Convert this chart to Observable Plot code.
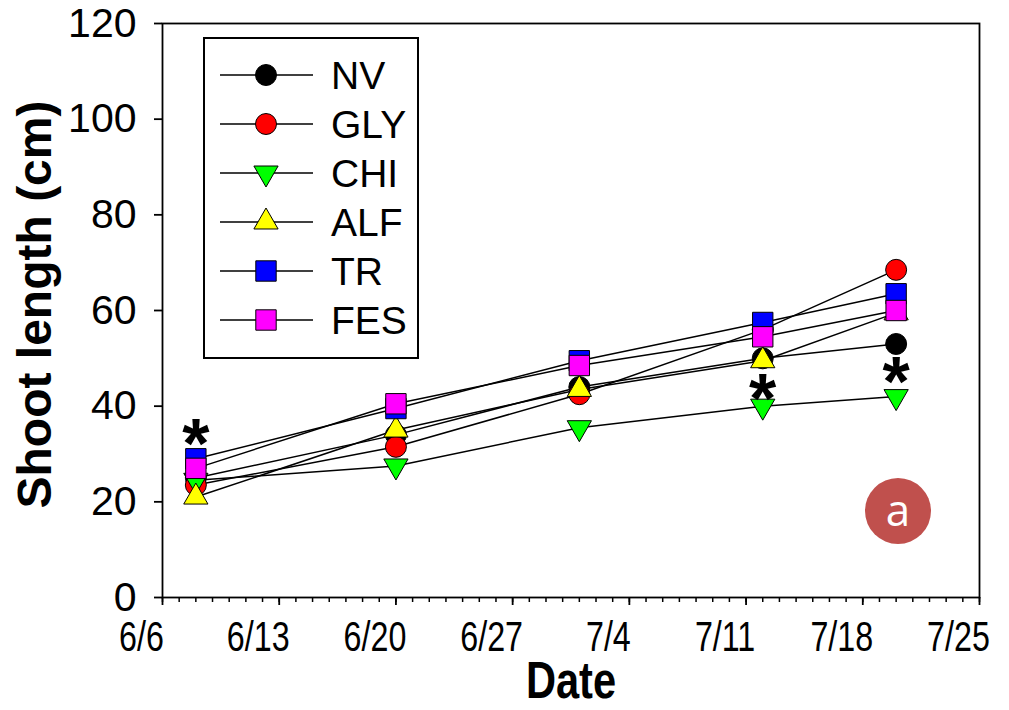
<!DOCTYPE html>
<html>
<head>
<meta charset="utf-8">
<script src="https://cdn.jsdelivr.net/npm/d3@7"></script>
<script src="https://cdn.jsdelivr.net/npm/@observablehq/plot@0.6"></script>
<style>
  html, body { margin: 0; padding: 0; background: #fff; }
  #wrap { position: relative; width: 1009px; height: 710px; overflow: hidden; }
  #legend, #badge { position: absolute; }
</style>
</head>
<body>
<div id="wrap"></div>
<script>
// ---- data ----
const year = 2019;
const dates = ["6/8", "6/20", "7/1", "7/12", "7/20"];
const series = ["NV", "GLY", "CHI", "ALF", "TR", "FES"];
const NV  = [25.0, 34.0, 44.0, 50.0, 53.0];
const GLY = [23.5, 31.5, 42.5, 56.0, 68.5];
const CHI = [24.5, 27.5, 35.5, 40.0, 42.0];
const ALF = [21.0, 35.0, 43.5, 49.5, 59.5];
const TR  = [29.0, 39.5, 49.5, 57.5, 63.5];
const FES = [27.0, 40.5, 48.5, 54.5, 60.0];
const fills = ["#000000", "#ff0000", "#00ff00", "#ffff00", "#0000ff", "#ff00ff"];
const shapes = ["circle", "circle", "triangle-down", "triangle", "square", "square"];
const xTickLabels = ["6/6", "6/13", "6/20", "6/27", "7/4", "7/11", "7/18", "7/25"];
const yTicks = [0, 20, 40, 60, 80, 100, 120];
const starDates = ["6/8", "7/12", "7/20"];
const starValues = [35.5, 45.0, 48.5];
const yTitle = "Shoot length (cm)";
const xTitle = "Date";
const badgeText = "a";

// ---- build ----
const values = [NV, GLY, CHI, ALF, TR, FES];
const toDate = s => { const [m, d] = s.split("/").map(Number); return new Date(Date.UTC(year, m - 1, d)); };
const rows = series.flatMap((s, i) => dates.map((d, j) => ({series: s, date: toDate(d), value: values[i][j]})));
const weekTicks = xTickLabels.map(toDate);
const labelOf = new Map(xTickLabels.map(l => [+toDate(l), l]));
const dayTicks = d3.utcDay.range(weekTicks[0], d3.utcDay.offset(weekTicks[weekTicks.length - 1], 1));
const stars = starDates.map((d, i) => ({date: toDate(d), value: starValues[i]}));

const symbolFor = s => s === "triangle-down" ? "triangle" : s;
const rFor = s => s.startsWith("triangle") ? 9 : (s === "square" ? 11.5 : 10.5);

const font = "'Liberation Sans', Arial, sans-serif";

const dotMarks = series.map((s, i) => Plot.dot(rows.filter(r => r.series === s), {
  x: "date", y: "value",
  symbol: symbolFor(shapes[i]),
  r: rFor(shapes[i]),
  rotate: shapes[i] === "triangle-down" ? 180 : 0,
  fill: fills[i], stroke: "#000", strokeWidth: 1
}));

const chart = Plot.plot({
  width: 1009, height: 710,
  marginLeft: 162, marginRight: 30, marginTop: 23, marginBottom: 113,
  style: {fontFamily: font, fontSize: "32px", color: "#000", background: "#fff", overflow: "visible"},
  x: {type: "utc", domain: [weekTicks[0], weekTicks[weekTicks.length - 1]]},
  y: {domain: [0, 120]},
  marks: [
    Plot.axisY({ticks: yTicks, tickSize: 8, tickPadding: 18, fontSize: 41, label: null, strokeWidth: 1.8}),
    Plot.axisX({ticks: dayTicks, tickSize: 5, tickFormat: () => "", label: null, strokeWidth: 1.5}),
    Plot.axisX({ticks: weekTicks, tickSize: 8, tickFormat: () => "", label: null, strokeWidth: 1.8}),
    Plot.axisX({ticks: weekTicks, tickSize: 0, tickPadding: 23, fontSize: 43, dx: -21,
      tickFormat: d => labelOf.get(+d), label: null}),
    Plot.frame({stroke: "#000", strokeWidth: 1.8}),
    ...series.map(s => Plot.line(rows.filter(r => r.series === s), {x: "date", y: "value", stroke: "#000", strokeWidth: 1.5})),
    ...dotMarks,
    Plot.text(stars, {x: "date", y: "value", text: () => "*", fontSize: 70, fontWeight: "bold", dy: 18, fill: "#000"}),
    Plot.text([yTitle], {frameAnchor: "left", textAnchor: "middle", lineAnchor: "middle", rotate: -90, dx: -127, dy: -6, fontSize: 48, fontWeight: "bold"}),
    Plot.text([xTitle], {frameAnchor: "bottom", lineAnchor: "middle", dy: 84, fontSize: 52, fontWeight: "bold"})
  ]
});

const wrap = document.getElementById("wrap");
wrap.appendChild(chart);

// horizontally condense the x labels and x title (glyphs look narrow in the reference)
function condense(t, sx) {
  const w = t.getComputedTextLength();
  if (w > 0) {
    t.setAttribute("textLength", (w * sx).toFixed(1));
    t.setAttribute("lengthAdjust", "spacingAndGlyphs");
  }
}
chart.querySelectorAll('g[aria-label="x-axis tick label"] text').forEach(t => condense(t, 0.75));
chart.querySelectorAll("text").forEach(t => { if (t.textContent === xTitle) condense(t, 0.8); });

// ---- legend (drawn from the series arrays) ----
const lg = d3.select(wrap).append("svg").attr("id", "legend")
  .style("left", "203px").style("top", "37px")
  .attr("width", 216).attr("height", 322);
lg.append("rect").attr("x", 1).attr("y", 1).attr("width", 214).attr("height", 320)
  .attr("fill", "#fff").attr("stroke", "#000").attr("stroke-width", 2);
series.forEach((s, i) => {
  const cy = 38 + i * 49;
  const g = lg.append("g").attr("transform", `translate(0,${cy})`);
  g.append("line").attr("x1", 17).attr("x2", 110).attr("y1", 0).attr("y2", 0).attr("stroke", "#000").attr("stroke-width", 1.5);
  const r = rFor(shapes[i]);
  const sym = shapes[i] === "square" ? d3.symbolSquare : shapes[i].startsWith("triangle") ? d3.symbolTriangle : d3.symbolCircle;
  g.append("path").attr("d", d3.symbol(sym, Math.PI * r * r)())
    .attr("transform", `translate(63,0) rotate(${shapes[i] === "triangle-down" ? 180 : 0})`)
    .attr("fill", fills[i]).attr("stroke", "#000").attr("stroke-width", 1);
  g.append("text").attr("x", 128).attr("y", 0).attr("dy", "0.36em")
    .attr("font-family", font).attr("font-size", 39).text(s);
});

// ---- panel badge ----
const bd = d3.select(wrap).append("svg").attr("id", "badge")
  .style("left", "864px").style("top", "477px").attr("width", 68).attr("height", 68);
bd.append("circle").attr("cx", 34).attr("cy", 34).attr("r", 33).attr("fill", "#c0504d");
bd.append("text").attr("x", 34).attr("y", 34).attr("dy", "0.35em").attr("text-anchor", "middle")
  .attr("font-family", "'Open Sans', sans-serif").attr("font-size", 44).attr("fill", "#fff").text(badgeText);
</script>
</body>
</html>
